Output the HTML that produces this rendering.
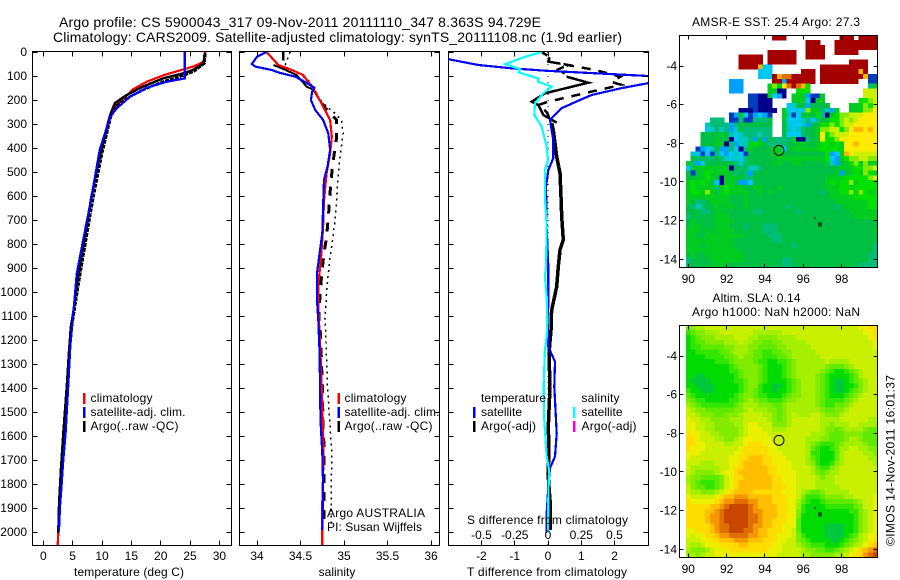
<!DOCTYPE html>
<html lang="en">
<head>
<meta charset="utf-8">
<title>Argo profile CS 5900043_317</title>
<style>
html,body{margin:0;padding:0;background:#fff;}
svg{display:block;font-family:"Liberation Sans",sans-serif;font-size:12px;fill:#000;}
text{fill:#000;}
.fr{fill:none;stroke:#000;stroke-width:1;shape-rendering:crispEdges;}
</style>
</head>
<body>
<svg id="chart" xmlns="http://www.w3.org/2000/svg" width="900" height="580" viewBox="0 0 900 580">
<defs>
<clipPath id="clip-temp"><rect x="33" y="52" width="198" height="493"/></clipPath>
<clipPath id="clip-sal"><rect x="240" y="52" width="199" height="493"/></clipPath>
<clipPath id="clip-diff"><rect x="449" y="52" width="199" height="493"/></clipPath>
</defs>
<rect width="900" height="580" fill="#fff"/>
<text x="59" y="27" font-size="14" textLength="482">Argo profile: CS 5900043_317 09-Nov-2011 20111110_347 8.363S 94.729E</text>
<text x="53" y="42" font-size="14" textLength="569">Climatology: CARS2009. Satellite-adjusted climatology: synTS_20111108.nc (1.9d earlier)</text>

<g id="sst-map"></g>
<g id="sla-map"></g>
<g id="temp-series" clip-path="url(#clip-temp)"></g>
<g id="sal-series" clip-path="url(#clip-sal)"></g>
<g id="diff-series" clip-path="url(#clip-diff)"></g>
<g id="axes"></g>

<rect class="fr" x="32.5" y="51.5" width="199" height="494"/>
<rect class="fr" x="239.5" y="51.5" width="200" height="494"/>
<rect class="fr" x="448.5" y="51.5" width="200" height="494"/>
<rect class="fr" x="679.5" y="35.5" width="198" height="232"/>
<rect class="fr" x="679.5" y="325.5" width="198" height="232"/>

<text x="129" y="576" text-anchor="middle" textLength="110">temperature (deg C)</text>
<text x="337" y="576" text-anchor="middle">salinity</text>
<text x="547" y="576" text-anchor="middle" textLength="160">T difference from climatology</text>
<text x="467" y="524" textLength="161">S difference from climatology</text>

<g>
<rect x="83" y="393" width="2.5" height="11" fill="#f00"/>
<rect x="83" y="407" width="2.5" height="11" fill="#00f"/>
<rect x="83" y="421" width="2.5" height="11" fill="#000"/>
<text x="90.5" y="402" textLength="62">climatology</text>
<text x="90.5" y="416" textLength="95">satellite-adj. clim.</text>
<text x="90.5" y="430" textLength="88">Argo(..raw -QC)</text>
</g>
<g>
<rect x="337.5" y="393" width="2.5" height="11" fill="#f00"/>
<rect x="337.5" y="407" width="2.5" height="11" fill="#00f"/>
<rect x="337.5" y="421" width="2.5" height="11" fill="#000"/>
<text x="344.5" y="402" textLength="62">climatology</text>
<text x="344.5" y="416" textLength="95">satellite-adj. clim.</text>
<text x="344.5" y="430" textLength="88">Argo(..raw -QC)</text>
<text x="327" y="517" textLength="98">Argo AUSTRALIA</text>
<text x="327" y="531" textLength="95">PI: Susan Wijffels</text>
</g>
<g>
<text x="481" y="402" textLength="65">temperature</text>
<text x="581.5" y="402" textLength="38">salinity</text>
<rect x="473" y="407" width="2.5" height="11" fill="#00f"/>
<rect x="473" y="421" width="2.5" height="11" fill="#000"/>
<rect x="573" y="407" width="2.5" height="11" fill="#0ff"/>
<rect x="573" y="421" width="2.5" height="11" fill="#f0d"/>
<text x="481" y="416" textLength="41">satellite</text>
<text x="481" y="430" textLength="55">Argo(-adj)</text>
<text x="581.5" y="416" textLength="41">satellite</text>
<text x="581.5" y="430" textLength="55">Argo(-adj)</text>
</g>

<text x="692" y="26" textLength="168">AMSR-E SST: 25.4 Argo: 27.3</text>
<text x="712.5" y="302" textLength="88">Altim. SLA: 0.14</text>
<text x="692" y="316" textLength="168">Argo h1000: NaN h2000: NaN</text>
<text transform="translate(894.5 546) rotate(-90)" textLength="171">©IMOS 14-Nov-2011 16:01:37</text>

<script>
/* ---- axis values ---- */
var depthTicks = [0,100,200,300,400,500,600,700,800,900,1000,1100,1200,1300,1400,1500,1600,1700,1800,1900,2000];
var tempTicks = [0,5,10,15,20,25,30];
var tempTickLabels = ['0','5','10','15','20','25','30'];
var salTicks = [34,34.5,35,35.5,36];
var salTickLabels = ['34','34.5','35','35.5','36'];
var diffTTicks = [-2,-1,0,1,2];
var diffTTickLabels = ['-2','-1','0','1','2'];
var diffSTicks = [-0.5,-0.25,0,0.25,0.5];
var diffSTickLabels = ['-0.5','-0.25','0','0.25','0.5'];
var lonTicks = [90,92,94,96,98];
var lonTickLabels = ['90','92','94','96','98'];
var latTicks = [-4,-6,-8,-10,-12,-14];
var latTickLabels = ['-4','-6','-8','-10','-12','-14'];

/* ---- temperature profiles ---- */
var climTempDepth = [0,40,60,96,124,155,221,283,408,603,770,964,1088,1144,1242,1394,1589,1742,1880,2004,2054];
var climTempValues = [27.6,27.4,25.6,20.6,17.6,15.3,12.5,11.1,9.9,8.2,7.1,5.8,5.1,4.8,4.5,4.0,3.4,3.0,2.7,2.55,2.45];
var argoTempDepth = [5,47,75,89,110,144,179,213,262,408,603,770,964,1088,1144,1242,1394,1589,1742,1880,2004];
var argoTempValues = [27.5,27.3,25.5,23.8,20.4,17.0,14.2,12.2,11.4,9.9,8.2,7.1,5.7,5.1,4.7,4.4,4.0,3.4,3.0,2.7,2.55];
var argoRawDepth = [5,47,82,98,122,156,192,224,272,415,610,780,970,1095,1150,1250,1400,1600,1750,1890,2000];
var argoRawValues = [27.6,27.5,25.6,23.9,20.5,17.2,14.3,12.4,11.5,10.1,8.5,7.3,6.0,5.2,4.8,4.5,4.1,3.5,3.1,2.8,2.6];
var satTempDepth = [0,103,110,124,149,186,235,269,408,631,783,922,1117,1227,1395,1589,1700,1811,1895,1992];
var satTempValues = [24.1,24.1,24.1,21.0,17.6,14.8,12.5,11.4,9.6,8.0,6.8,5.7,5.0,4.6,4.25,3.8,3.4,3.1,2.85,2.67];

/* ---- salinity profiles ---- */
var climSalDepth = [0,54,75,96,124,165,228,283,353,422,505,617,728,867,964,1061,1256,1464,1672,1880,2054];
var climSalValues = [34.11,34.245,34.4,34.53,34.59,34.67,34.76,34.84,34.86,34.84,34.8,34.77,34.76,34.735,34.705,34.705,34.73,34.75,34.765,34.75,34.75];
var satSalDepth = [0,20,50,61,75,85,103,124,149,165,200,242,283,339,408,478,533,644,755,839,922,1033,1117,1256,1533,1672,1811,1992];
var satSalValues = [34.11,34.0,33.94,33.98,34.17,34.245,34.44,34.55,34.66,34.635,34.62,34.67,34.76,34.82,34.84,34.81,34.77,34.76,34.75,34.72,34.69,34.69,34.705,34.72,34.73,34.75,34.76,34.75];
var argoSalTopDepth = [0,35];
var argoSalTopValues = [34.30,34.30];
var argoSalShallowDepth = [54,67,96,144,158,213];
var argoSalShallowValues = [34.19,34.28,34.455,34.57,34.65,34.74];
var argoSalDepth = [213,249,283,353,394,450,533,617,689,770,839,922,1005,1117,1172,1394,1561,1644,1880,1964];
var argoSalValues = [34.74,34.82,34.916,34.916,34.9,34.877,34.85,34.835,34.82,34.8,34.77,34.745,34.725,34.71,34.73,34.75,34.76,34.77,34.77,34.77];
var argoSalRawDepth = [0,60,96,124,190,228,249,283,339,394,450,533,617,700,783,853,922,1005,1117,1172,1394,1561,1672,1880,1964];
var argoSalRawValues = [34.38,34.32,34.51,34.61,34.705,34.8,34.877,34.97,34.99,34.97,34.95,34.93,34.915,34.896,34.87,34.84,34.82,34.8,34.78,34.79,34.81,34.84,34.86,34.85,34.85];

/* ---- differences from climatology ---- */
var satDiffTDepth = [0,30,54,68,78,92,100,115,130,151,179,203,234,283,367,442,492,561,728,894,1019,1117,1228,1290,1394,1589,1686,1733,1811,1922,2004];
var satDiffTValues = [-3.4,-2.99,-2.09,-1.09,-0.09,1.91,3.0,3.6,3.0,2.2,1.31,0.91,0.41,0.06,0.16,0.16,0.01,-0.06,-0.04,0.01,0.01,0,0.01,0.21,0.19,0.26,0.21,0.06,0.01,-0.04,-0.04];
var satDiffSDepth = [0,20,50,72,85,110,124,144,172,213,262,311,394,450,492,603,728,894,936,1019,1117,1186,1242,1394,1533,1686,1742,1839,2004];
var satDiffSValues = [-0.047,-0.173,-0.32,-0.21,-0.22,-0.073,-0.073,0.028,-0.035,-0.098,-0.103,-0.047,-0.01,0,-0.023,-0.023,-0.01,-0.015,-0.023,-0.01,-0.005,-0.01,-0.023,-0.032,-0.028,-0.01,0.008,0.003,0];
var argoDiffTopDepth = [0,20,40,54,72,90];
var argoDiffTopValues = [-0.2,0.05,0.01,0.61,0.31,0.5];
var argoDiffDepth = [103,128,172,207,221,262,294];
var argoDiffValues = [0.56,1.21,-0.09,-0.49,-0.29,-0.14,0.26];
var argoDiffDashDepth = [40,75,103,124,137,165,207,221,250,296];
var argoDiffDashValues = [0.01,1.42,2.17,1.91,2.2,1.31,0.01,-0.29,-0.04,0.11];
var argoDiffDeepDepth = [296,325,436,505,603,686,783,825,894,978,1075,1117,1158,1256,1394,1561,1672,1756,1867,1992];
var argoDiffDeepValues = [0.11,0.16,0.26,0.36,0.39,0.41,0.46,0.36,0.31,0.26,0.11,0.09,0.09,0.03,0.06,0.01,0.03,0,0.06,0.06];
var zeroLineDepth = [0,2054];
var zeroLineValues = [0,0];

/* ---- map markers ---- */
var argoLon = 94.729;
var argoLat = -8.363;
var coastLon = [96.62,96.88];
var coastLat = [-11.85,-12.17];
var coastSize = [1,2];

/* ---- SST map cells, colour level per 0.25 degree cell, 0 = no data ---- */
var sstRows = [
[0,0,0,0,0,0,0,0,0,0,0,0,0,0,0,0,0,0,15,15,15,0,0,0,0,0,0,0,0,0,0,0,15,15,15,0,15,15,15,15],
[0,0,0,0,0,0,0,0,0,0,0,0,0,0,0,0,0,0,0,0,0,0,0,0,0,15,15,15,0,0,0,15,15,15,15,15,15,15,15,15],
[0,0,0,0,0,0,0,0,0,0,0,0,0,0,0,0,0,0,0,0,0,0,0,0,0,15,15,15,15,0,0,15,15,15,15,15,15,15,15,15],
[0,0,0,0,0,0,0,0,0,0,0,0,0,0,0,0,0,15,15,15,15,15,15,0,0,15,15,15,15,0,0,15,15,15,15,15,0,0,0,0],
[0,0,0,0,0,0,0,0,0,0,0,15,15,15,15,15,0,15,15,15,15,15,15,0,0,15,15,15,15,0,0,0,0,0,0,0,0,0,0,0],
[0,0,0,0,0,0,0,0,0,0,0,15,15,15,15,15,0,15,15,15,15,15,15,0,0,0,0,0,0,0,0,0,0,0,15,15,15,15,0,0],
[0,0,0,0,0,0,0,0,0,0,0,15,15,15,15,13,4,4,0,0,0,0,0,0,0,0,0,0,15,15,15,15,15,15,15,15,15,15,0,0],
[0,0,0,0,0,0,0,0,0,0,0,0,0,0,0,4,4,4,0,0,0,0,0,0,15,15,15,0,15,15,15,15,15,15,15,15,13,15,0,0],
[0,0,0,0,0,0,0,0,0,0,0,0,0,0,0,4,4,4,15,13,14,14,15,15,15,15,15,0,15,15,15,15,15,15,15,15,15,13,2,2],
[0,0,0,0,0,0,0,0,0,3,3,3,0,0,0,0,0,0,15,15,3,15,15,15,15,15,15,0,15,15,15,15,15,15,15,15,0,0,2,2],
[0,0,0,0,0,0,0,0,0,3,3,3,0,0,0,0,0,8,10,8,12,14,15,14,13,9,0,0,0,0,0,0,0,0,0,0,0,0,6,8],
[0,0,0,0,0,0,0,0,0,3,3,3,0,0,0,0,0,8,8,1,1,0,0,9,9,9,0,0,0,0,0,0,0,0,0,0,0,11,11,11],
[0,0,0,0,0,0,0,0,0,0,0,0,0,2,2,1,1,8,4,3,1,0,8,8,8,3,2,2,8,0,0,0,0,0,0,0,0,11,11,11],
[0,0,0,0,0,0,0,0,0,0,0,0,0,2,2,1,1,1,0,0,0,0,8,8,8,4,1,8,8,0,0,0,0,0,0,0,9,9,10,11],
[0,0,0,0,0,0,0,0,0,0,0,0,0,2,2,1,1,1,0,0,0,4,5,7,7,3,7,7,7,7,0,0,0,0,8,8,8,10,9,11],
[0,0,0,0,0,0,0,0,0,0,0,1,1,1,2,1,1,1,1,0,8,4,4,4,4,10,8,8,6,5,3,8,0,0,8,8,8,10,10,12],
[0,0,0,0,0,0,0,0,0,2,3,7,4,2,3,4,3,2,0,0,8,5,2,4,7,8,7,9,6,1,8,9,10,10,11,11,11,12,12,12],
[0,0,0,0,0,6,6,6,0,2,2,6,2,2,6,6,6,7,0,0,8,4,4,4,5,6,4,6,7,7,9,9,10,11,10,11,12,12,12,12],
[0,0,0,0,5,6,6,6,6,3,6,7,7,7,7,7,7,7,0,0,7,5,4,4,5,3,7,7,9,9,10,9,10,11,11,12,12,12,12,12],
[0,0,0,0,4,5,6,5,6,3,5,7,6,6,6,6,6,6,0,0,7,5,4,5,6,7,7,8,10,10,11,11,9,10,12,13,13,12,13,12],
[0,0,0,7,7,7,7,8,7,5,4,5,6,6,6,5,6,6,0,0,7,4,4,4,6,7,7,8,12,9,10,11,11,11,12,12,12,12,12,12],
[0,0,0,7,7,7,8,7,7,1,4,5,5,6,3,8,3,7,6,6,6,6,8,1,1,6,7,7,12,9,9,10,12,12,12,12,12,12,12,12],
[0,0,0,7,7,7,8,8,1,6,3,5,5,8,9,8,7,6,6,6,6,7,7,8,8,7,7,8,9,9,8,9,8,12,12,13,12,12,12,12],
[0,0,2,3,4,5,7,3,3,6,4,1,6,8,7,7,7,7,8,8,4,7,8,8,8,8,8,8,9,9,9,9,8,12,12,12,12,12,12,12],
[0,5,4,2,4,2,6,4,3,4,5,4,2,7,7,7,7,7,8,8,7,7,7,7,7,7,7,7,7,9,3,4,8,13,12,11,11,11,11,11],
[0,7,6,7,6,6,7,6,5,4,5,4,6,7,7,7,7,7,7,8,8,8,8,8,8,8,8,8,8,9,4,3,8,9,10,10,11,11,10,10],
[8,6,3,4,7,7,7,7,7,7,6,5,6,7,7,7,7,7,8,8,7,7,8,8,7,7,7,7,7,8,5,3,7,8,9,10,8,10,8,8],
[4,7,8,8,8,8,8,8,8,1,7,6,7,5,5,6,7,7,7,7,7,7,7,7,7,7,7,7,7,7,7,7,8,8,8,9,9,10,10,11],
[7,2,7,8,9,8,8,8,8,7,6,7,6,3,7,7,7,7,7,7,7,7,7,7,7,7,7,7,7,7,7,8,3,7,8,9,8,10,9,8],
[7,7,8,8,9,8,7,1,8,8,8,7,6,6,7,7,7,7,7,7,7,7,7,7,7,7,7,7,7,8,8,8,8,9,9,9,9,9,10,11],
[8,9,8,9,8,7,4,1,8,8,7,3,3,4,7,7,7,7,7,7,7,7,7,7,7,7,7,7,7,8,9,8,9,9,10,8,9,9,9,9],
[8,9,8,8,8,8,6,8,9,8,8,8,7,7,8,8,7,7,7,8,7,7,7,7,7,7,7,7,7,8,8,8,9,9,8,9,9,9,9,9],
[8,9,9,8,10,8,7,8,9,8,8,8,8,7,7,8,7,8,7,7,7,7,7,7,7,7,7,7,6,7,8,8,9,9,10,8,10,9,8,9],
[8,8,8,8,8,8,8,8,8,7,7,7,8,7,7,7,7,7,7,7,7,7,7,7,7,7,7,7,7,7,8,8,8,8,8,9,9,9,9,9],
[8,7,6,6,7,8,8,8,8,7,7,7,8,7,7,7,7,7,7,7,7,7,7,7,7,7,7,7,7,7,7,8,8,8,8,8,8,8,9,9],
[7,6,5,6,7,7,8,7,8,8,7,7,8,7,7,7,7,7,7,7,7,6,7,7,7,7,7,7,7,7,7,6,7,8,8,8,8,8,9,9],
[7,7,7,6,6,7,8,8,7,7,7,7,7,7,6,6,7,7,7,7,7,7,7,6,7,7,7,7,7,7,7,7,7,7,8,8,8,8,8,8],
[6,7,7,7,7,7,8,8,8,7,7,7,7,7,7,7,7,7,7,7,7,7,7,7,7,7,7,7,7,7,7,7,7,7,7,8,8,8,8,8],
[7,8,7,7,7,7,8,8,8,8,7,7,7,7,7,7,7,7,7,7,7,7,7,7,7,7,7,7,7,7,7,7,7,7,7,7,7,7,7,7],
[7,8,8,7,7,7,8,8,8,7,7,7,6,7,7,7,6,6,6,7,7,7,7,7,7,7,7,7,7,7,7,7,7,7,7,7,7,7,7,7],
[8,8,8,7,8,7,8,8,8,8,7,7,7,7,7,7,6,6,6,7,7,7,7,7,7,7,7,7,7,7,7,7,7,7,7,7,7,7,7,8],
[8,8,7,7,8,8,8,8,8,8,8,8,7,7,7,7,7,6,6,6,7,7,7,7,7,7,7,7,7,7,7,7,7,7,7,7,7,7,7,7],
[8,8,8,8,8,8,8,8,8,8,7,7,7,7,7,7,7,7,6,6,7,7,7,7,7,7,7,7,7,7,7,7,7,7,7,7,7,7,7,7],
[8,8,8,7,8,8,8,8,8,8,7,7,7,7,7,7,7,7,7,7,7,7,6,7,7,7,7,7,7,7,7,7,7,7,7,7,7,7,7,6],
[8,8,8,8,8,8,8,8,8,8,8,7,7,7,7,7,7,7,7,7,7,7,7,7,7,7,7,7,7,7,7,7,7,7,7,7,7,7,7,6],
[7,8,7,7,8,8,8,8,8,8,8,8,7,7,7,7,7,7,7,7,7,7,7,7,7,7,7,7,7,7,7,7,7,7,7,7,7,7,6,6],
[6,7,7,7,7,8,8,8,8,8,8,8,7,7,7,7,7,7,7,7,6,6,7,7,7,7,7,7,7,7,7,7,7,7,7,7,7,7,6,6],
[6,7,7,7,7,7,8,8,8,7,7,7,7,7,7,7,7,7,7,7,6,6,7,7,7,7,7,7,7,7,7,7,7,7,7,7,6,6,6,6]
];

/* ---- SLA map cells, colour level per 0.25 degree cell ---- */
var slaRows = [
[5,5,6,6,7,7,7,7,7,7,7,7,7,7,7,7,7,7,7,7,7,7,7,7,7,7,7,7,7,7,7,7,7,7,7,7,8,8,9,9],
[3,4,5,5,6,6,6,7,7,7,7,7,7,7,6,6,6,6,6,6,7,7,7,7,7,7,7,7,7,7,7,7,7,7,7,7,7,8,8,9],
[2,3,4,5,5,5,6,6,6,6,7,7,7,6,6,5,5,5,5,6,6,6,6,7,7,7,7,7,7,7,7,7,7,7,7,7,7,7,8,9],
[2,3,4,4,5,5,5,5,6,6,6,7,6,6,5,5,4,4,5,5,6,6,6,6,6,7,7,7,7,7,7,7,7,7,7,7,7,7,7,8],
[2,3,3,4,4,4,4,4,5,5,6,6,6,5,5,4,4,4,4,5,5,6,6,6,6,6,7,7,7,7,7,7,7,7,7,7,7,7,7,8],
[2,2,3,3,3,3,3,4,4,5,6,6,6,5,4,4,3,3,4,4,5,5,6,6,6,6,6,7,7,7,7,7,7,7,7,7,7,7,7,7],
[2,2,2,2,3,3,3,3,4,4,5,6,5,5,4,4,3,3,3,4,4,5,6,6,6,6,6,6,7,7,7,7,7,7,7,7,7,7,7,7],
[2,2,2,2,2,2,3,3,3,4,5,5,5,5,4,3,3,2,2,3,3,4,5,6,6,6,6,6,6,7,6,6,6,6,7,7,7,7,7,7],
[2,2,2,2,2,2,2,2,2,3,4,5,5,5,5,4,3,2,2,2,3,4,5,6,6,6,6,6,6,5,4,4,4,5,6,7,7,7,7,7],
[2,2,2,2,2,2,2,2,2,3,3,4,5,5,5,4,3,2,2,2,3,4,5,6,6,6,6,6,5,4,3,2,2,3,4,5,6,7,7,7],
[2,2,1,1,2,2,2,2,2,2,3,4,5,5,5,4,3,2,2,2,3,4,5,6,6,6,6,5,4,3,2,2,2,2,3,4,6,7,7,7],
[2,1,1,1,1,2,2,2,2,2,3,3,4,5,5,4,3,2,2,2,2,3,4,5,6,6,6,5,4,3,2,1,1,2,3,4,5,6,7,7],
[2,2,1,1,1,1,2,2,2,2,2,3,4,5,5,3,2,2,1,1,2,3,4,5,6,6,6,5,4,3,2,1,1,2,2,3,5,6,7,7],
[3,2,2,1,1,1,2,2,2,2,2,3,4,5,4,3,2,2,1,2,2,3,4,5,6,6,6,5,4,3,2,1,1,2,3,4,5,6,7,7],
[4,3,2,2,2,2,2,2,2,2,3,4,5,5,4,3,3,2,2,2,3,4,5,5,6,6,6,5,4,3,2,2,2,3,4,5,6,7,7,7],
[5,4,3,3,2,2,2,2,2,3,3,4,5,6,5,4,4,3,3,3,4,5,5,6,6,6,6,5,4,3,3,3,3,4,5,6,7,7,7,7],
[6,5,4,3,3,3,3,3,3,3,4,5,6,6,6,5,5,5,4,4,5,6,6,6,6,6,6,5,4,3,3,4,4,5,6,7,7,7,7,7],
[7,6,5,5,4,4,4,4,4,4,5,5,6,7,6,6,6,5,5,4,5,6,6,6,6,6,6,6,5,4,4,5,5,6,7,7,7,7,7,7],
[7,7,6,5,5,5,4,4,5,5,5,6,7,7,7,7,6,6,5,4,5,6,7,6,6,6,7,7,6,5,5,5,6,7,7,7,7,7,7,7],
[8,7,7,6,6,5,5,5,5,6,6,6,7,7,7,7,7,6,5,4,5,6,7,7,7,7,7,7,6,6,6,6,7,7,7,7,7,7,6,6],
[8,8,7,7,6,6,5,5,5,5,6,6,7,8,8,7,7,7,5,5,5,6,7,7,7,7,7,7,6,6,5,6,6,6,7,7,6,6,6,6],
[8,8,7,7,6,6,5,5,5,5,5,6,7,8,8,8,7,7,6,6,6,7,7,7,7,7,7,7,6,5,5,4,5,6,6,6,6,5,4,4],
[9,8,8,7,7,6,6,5,5,5,5,6,7,8,8,8,8,7,7,7,7,7,7,7,7,7,6,6,6,5,4,4,4,5,5,5,5,4,4,4],
[9,9,8,7,7,7,6,6,5,5,6,7,8,8,8,8,8,8,7,7,7,7,7,7,7,6,6,6,5,5,4,4,4,5,6,6,5,4,4,4],
[9,9,8,8,7,7,7,7,6,6,7,7,8,9,9,9,8,8,8,7,7,7,7,7,7,6,5,4,3,3,3,4,5,6,6,6,6,5,4,4],
[9,8,8,8,7,7,7,7,7,7,7,8,9,9,9,9,9,8,8,7,7,7,7,7,7,6,4,3,2,2,3,4,6,6,7,7,6,6,5,5],
[8,8,8,7,7,7,7,7,7,7,8,8,9,9,9,9,9,8,8,8,7,7,7,7,7,6,3,3,2,2,2,4,6,7,7,7,7,6,6,5],
[8,7,7,7,7,7,7,7,7,8,8,9,9,10,10,10,9,9,8,8,8,7,7,7,7,6,4,3,2,2,2,4,6,7,7,7,7,7,6,6],
[7,7,7,6,6,6,7,7,7,8,8,9,10,10,10,10,9,9,8,8,8,8,7,7,7,6,5,3,2,2,3,5,6,7,7,7,7,7,7,6],
[7,6,6,6,6,6,6,7,7,8,9,9,10,10,10,10,10,9,9,8,8,8,7,7,7,7,6,4,3,3,5,6,7,7,7,7,7,7,7,7],
[7,6,5,5,5,5,6,7,8,8,9,10,10,10,10,10,10,9,9,8,8,8,8,7,7,7,6,5,4,5,6,6,7,7,7,7,7,7,7,7],
[6,5,5,4,4,4,4,5,7,8,9,9,10,10,10,10,10,10,9,9,8,8,8,7,7,7,7,6,5,6,6,7,7,7,7,7,7,7,7,7],
[6,5,4,3,3,3,4,5,7,8,9,10,10,10,10,10,10,10,9,9,8,8,8,7,7,7,7,6,6,6,6,7,7,7,7,7,7,7,7,7],
[7,5,4,4,3,3,4,5,7,8,9,10,10,10,10,10,10,10,9,9,9,8,8,7,7,7,7,6,6,6,6,6,7,7,7,7,7,7,7,7],
[7,6,6,5,5,5,6,7,8,9,10,10,10,10,9,9,9,9,9,9,8,8,8,7,6,5,4,4,5,6,6,6,6,6,7,7,7,7,7,7],
[8,7,7,7,7,7,8,9,10,10,11,11,11,10,10,10,10,10,9,9,9,8,8,7,5,3,3,3,4,5,5,5,5,6,6,7,7,7,7,8],
[9,8,8,8,8,8,9,10,11,11,12,12,12,11,11,10,10,10,9,9,9,8,8,6,4,3,2,2,3,4,4,4,4,4,4,5,6,7,7,8],
[9,9,9,9,9,10,10,11,12,13,13,13,13,12,11,10,10,10,10,9,9,8,8,6,3,2,2,2,2,3,3,3,3,3,3,4,5,7,7,8],
[9,9,9,9,10,10,11,12,13,13,13,13,13,12,11,11,10,10,10,9,9,8,8,5,3,2,2,2,2,2,2,2,2,2,3,3,5,6,7,8],
[9,9,9,9,10,11,11,12,13,13,13,13,13,12,12,11,10,10,10,9,9,8,8,5,2,2,2,2,2,2,2,2,2,2,2,3,5,6,7,8],
[9,9,9,9,10,11,11,12,13,13,13,13,13,12,12,11,10,10,9,9,9,8,8,4,2,2,2,2,2,2,2,2,2,2,2,3,5,6,7,8],
[9,9,9,9,9,10,11,12,12,13,13,13,13,12,11,11,10,10,9,9,8,8,8,4,2,2,2,2,2,1,1,1,1,2,2,3,5,6,7,8],
[8,8,9,9,9,10,11,12,12,13,13,13,12,12,11,10,10,9,9,9,8,8,7,4,2,2,2,2,2,1,1,1,1,2,2,3,5,6,7,8],
[8,7,8,8,9,9,10,11,11,12,12,12,12,11,11,10,10,9,9,8,8,8,7,5,3,2,2,2,2,1,1,1,1,2,3,4,6,7,8,8],
[7,7,7,8,8,9,9,10,10,10,11,11,11,10,10,10,9,9,9,8,8,7,7,5,4,3,2,2,2,2,1,1,2,3,4,5,6,7,8,9],
[7,6,6,7,8,8,8,9,9,9,9,10,10,9,9,9,9,9,8,8,7,7,7,6,5,4,3,3,3,2,2,2,3,4,5,6,7,8,9,10],
[6,5,5,5,6,7,8,8,8,9,9,9,9,9,9,9,9,8,8,8,7,7,7,7,6,5,5,4,4,3,3,4,5,6,7,8,9,10,11,12],
[6,6,5,6,7,7,8,8,8,8,8,8,8,8,8,8,8,8,8,7,7,7,7,7,6,6,5,5,5,5,5,6,6,7,8,9,9,11,12,13]
];

/* ---- colour tables ---- */
var sstColors = ['none','#00008c','#003cbe','#00a0ff','#00c8f0','#00c8be','#00be78','#00c044','#00cd20','#00e100','#82eb00','#cdf000','#ffeb00','#ffb400','#e16e00','#a50000'];
var slaColors = ['none','#00c83c','#00dc00','#32e600','#5feb00','#82eb00','#a5f000','#c8f000','#ebf000','#ffdc00','#ffbe00','#f59600','#e16e00','#c84600'];

var NS = 'http://www.w3.org/2000/svg';
var axesG = document.getElementById('axes');

/* ---- scales ---- */
function yDepth(d){ return 52 + 0.24 * d; }
function xTemp(t){ return 43.3 + 5.87 * t; }
function xSal(s){ return 257 + 87 * (s - 34); }
function xDiffT(t){ return 548 + 33.3 * t; }
function xDiffS(s){ return 548 + 133 * s; }
function xLon(l){ return 688.3 + 19.17 * (l - 90); }
function ySst(l){ return 66 + 19.33 * (-4 - l); }
function ySla(l){ return 356 + 19.33 * (-4 - l); }

function hLine(x1, x2, y){
  var el = document.createElementNS(NS, 'line');
  el.setAttribute('x1', x1); el.setAttribute('x2', x2);
  el.setAttribute('y1', y); el.setAttribute('y2', y);
  el.setAttribute('stroke', '#000');
  el.setAttribute('shape-rendering', 'crispEdges');
  
  
  axesG.appendChild(el);
}
function vLine(x, y1, y2){
  var el = document.createElementNS(NS, 'line');
  el.setAttribute('x1', x); el.setAttribute('x2', x);
  el.setAttribute('y1', y1); el.setAttribute('y2', y2);
  el.setAttribute('stroke', '#000');
  el.setAttribute('shape-rendering', 'crispEdges');
  
  
  axesG.appendChild(el);
}
function tickLabel(x, y, str, anchor){
  var el = document.createElementNS(NS, 'text');
  el.setAttribute('x', x); el.setAttribute('y', y);
  el.setAttribute('text-anchor', anchor);
  
  
  el.textContent = str;
  axesG.appendChild(el);
}
function snap(v){ return Math.round(v - 0.5) + 0.5; }

function profile(groupId, xFn, depths, values, color, width, dash, name){
  var pts = [];
  for (var i = 0; i < depths.length; i++) {
    pts.push(xFn(values[i]).toFixed(1) + ',' + yDepth(depths[i]).toFixed(1));
  }
  var el = document.createElementNS(NS, 'polyline');
  el.setAttribute('points', pts.join(' '));
  el.setAttribute('fill', 'none');
  el.setAttribute('stroke', color);
  el.setAttribute('stroke-width', width);
  if (dash) el.setAttribute('stroke-dasharray', dash);
  el.setAttribute('shape-rendering', 'crispEdges');
  
  
  document.getElementById(groupId).appendChild(el);
}

/* ---- profile panels ---- */
var panelEdges = [[32.5,231.5],[239.5,439.5],[448.5,648.5]];
for (var p = 0; p < panelEdges.length; p++) {
  for (var i = 0; i < depthTicks.length; i++) {
    var ty = snap(yDepth(depthTicks[i]));
    hLine(panelEdges[p][0], panelEdges[p][0] + 5, ty);
    hLine(panelEdges[p][1] - 5, panelEdges[p][1], ty);
  }
}
for (var i = 0; i < depthTicks.length; i++) {
  tickLabel(27, yDepth(depthTicks[i]) + 4, String(depthTicks[i]), 'end');
}
function xAxis(ticks, labels, fn, labelY){
  for (var i = 0; i < ticks.length; i++) {
    var tx = snap(fn(ticks[i]));
    vLine(tx, 51.5, 56.5);
    vLine(tx, 540.5, 545.5);
    tickLabel(fn(ticks[i]), labelY, labels[i], 'middle');
  }
}
xAxis(tempTicks, tempTickLabels, xTemp, 560);
xAxis(salTicks, salTickLabels, xSal, 560);
xAxis(diffTTicks, diffTTickLabels, xDiffT, 560);
for (var i = 0; i < diffSTicks.length; i++) {
  tickLabel(xDiffS(diffSTicks[i]), 539, diffSTickLabels[i], 'middle');
}

profile('temp-series', xTemp, climTempDepth, climTempValues, '#f00', 2.2, null, 'climatology-temperature-line');
profile('temp-series', xTemp, argoRawDepth, argoRawValues, '#000', 2.5, '4 1', 'argo-raw-temperature-line');
profile('temp-series', xTemp, argoTempDepth, argoTempValues, '#000', 2.5, null, 'argo-temperature-line');
profile('temp-series', xTemp, satTempDepth, satTempValues, '#00f', 2.2, null, 'satellite-temperature-line');

profile('sal-series', xSal, argoSalRawDepth, argoSalRawValues, '#000', 1.5, '2 4', 'argo-raw-salinity-line');
profile('sal-series', xSal, argoSalTopDepth, argoSalTopValues, '#000', 2.5, null, 'argo-surface-salinity-line');
profile('sal-series', xSal, argoSalShallowDepth, argoSalShallowValues, '#000', 2, null, 'argo-shallow-salinity-line');
profile('sal-series', xSal, argoSalDepth, argoSalValues, '#000', 3, '9 9', 'argo-salinity-line');
profile('sal-series', xSal, climSalDepth, climSalValues, '#f00', 2.2, null, 'climatology-salinity-line');
profile('sal-series', xSal, satSalDepth, satSalValues, '#00f', 2.2, null, 'satellite-salinity-line');

profile('diff-series', xDiffT, zeroLineDepth, zeroLineValues, '#000', 1, '1 5', 'zero-difference-line');
profile('diff-series', xDiffT, argoDiffDashDepth, argoDiffDashValues, '#000', 2.5, '9 8', 'argo-adjusted-difference-dashed-line');
profile('diff-series', xDiffT, argoDiffTopDepth, argoDiffTopValues, '#000', 2.5, '7 3', 'argo-surface-difference-line');
profile('diff-series', xDiffT, argoDiffDepth, argoDiffValues, '#000', 2.5, null, 'argo-difference-line');
profile('diff-series', xDiffT, argoDiffDeepDepth, argoDiffDeepValues, '#000', 3.5, null, 'argo-deep-difference-line');
profile('diff-series', xDiffT, satDiffTDepth, satDiffTValues, '#00f', 2.2, null, 'satellite-t-difference-line');
profile('diff-series', xDiffS, satDiffSDepth, satDiffSValues, '#0ff', 2.2, null, 'satellite-s-difference-line');

/* ---- maps ---- */
function drawCells(groupId, rows, colors, yFn, name){
  var g = document.getElementById(groupId);
  for (var r = 0; r < rows.length; r++) {
    for (var c = 0; c < rows[r].length; c++) {
      var v = rows[r][c];
      if (!v) continue;
      var lon = 89.875 + 0.25 * c;
      var lat = -2.41 - 0.25 * r;
      var x0 = xLon(lon), x1 = xLon(lon + 0.25);
      var y0 = yFn(lat), y1 = yFn(lat - 0.25);
      var el = document.createElementNS(NS, 'rect');
      el.setAttribute('x', x0.toFixed(2));
      el.setAttribute('y', y0.toFixed(2));
      el.setAttribute('width', (x1 - x0 + 0.2).toFixed(2));
      el.setAttribute('height', (y1 - y0 + 0.2).toFixed(2));
      el.setAttribute('fill', colors[v]);
      el.setAttribute('shape-rendering', 'crispEdges');
      
      
      g.appendChild(el);
    }
  }
}
function drawMarkers(groupId, yFn){
  var g = document.getElementById(groupId);
  for (var i = 0; i < coastLon.length; i++) {
    var m = document.createElementNS(NS, 'rect');
    m.setAttribute('x', xLon(coastLon[i]) - coastSize[i] / 2);
    m.setAttribute('y', yFn(coastLat[i]) - coastSize[i] / 2);
    m.setAttribute('width', coastSize[i]);
    m.setAttribute('height', coastSize[i] + 1);
    m.setAttribute('fill', coastSize[i] > 1 ? 'none' : '#000');
    m.setAttribute('stroke', coastSize[i] > 1 ? '#000' : 'none');
    m.setAttribute('shape-rendering', 'crispEdges');
    
    
    g.appendChild(m);
  }
  var el = document.createElementNS(NS, 'circle');
  el.setAttribute('cx', xLon(argoLon));
  el.setAttribute('cy', yFn(argoLat));
  el.setAttribute('r', 5);
  el.setAttribute('fill', 'none');
  el.setAttribute('stroke', '#000');
  el.setAttribute('stroke-width', 1);
  
  
  g.appendChild(el);
}
function mapAxes(top, bottom, yFn, labelY){
  for (var i = 0; i < lonTicks.length; i++) {
    var tx = snap(xLon(lonTicks[i]));
    vLine(tx, top - 4, top);
    vLine(tx, bottom, bottom + 4);
    tickLabel(xLon(lonTicks[i]), labelY, lonTickLabels[i], 'middle');
  }
  for (var j = 0; j < latTicks.length; j++) {
    var ty = snap(yFn(latTicks[j]));
    hLine(679.5, 683.5, ty);
    hLine(873.5, 877.5, ty);
    tickLabel(677, yFn(latTicks[j]) + 4, latTickLabels[j], 'end');
  }
}
drawCells('sst-map', sstRows, sstColors, ySst, 'sst-cell');
drawMarkers('sst-map', ySst);
drawCells('sla-map', slaRows, slaColors, ySla, 'sla-cell');
drawMarkers('sla-map', ySla);
mapAxes(39.5, 263.5, ySst, 283);
mapAxes(329.5, 553.5, ySla, 573);
</script>
</svg>
</body>
</html>
